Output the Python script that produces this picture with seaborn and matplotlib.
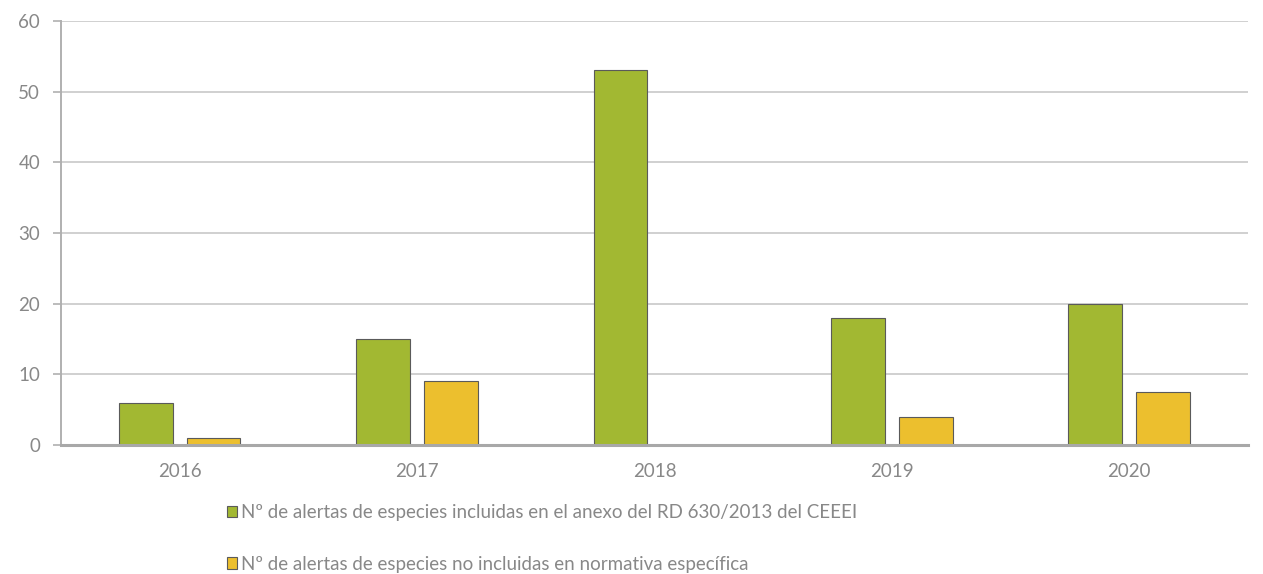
#!/usr/bin/env python3

from matplotlib import pyplot as plt
import pandas as pd
import seaborn as sns

years = ["2016", "2017", "2018", "2019", "2020"]
incluidas = [6, 15, 53, 18, 20]
no_incluidas = [1, 9, 0, 4, 7.5]
series = [
        "Nº de alertas de especies incluidas en el anexo del RD 630/2013 del CEEEI",
        "Nº de alertas de especies no incluidas en normativa específica",
        ]
colors = ["#a2b832", "#ecbf2e"]
yticks = [0, 10, 20, 30, 40, 50, 60]


def main():
    df = pd.DataFrame({
            "year": years * 2,
            "value": incluidas + no_incluidas,
            "serie": [series[0]] * len(years) + [series[1]] * len(years),
            })

    sns.set_theme(style="white")
    plt.rcParams["font.family"] = ["Lato", "DejaVu Sans"]

    fig = plt.figure(figsize=(12.63, 5.74), dpi=100)
    ax = fig.add_axes([0.0483, 0.2247, 0.9397, 0.7387])

    ax.set_axisbelow(True)
    ax.grid(axis="y", color="#d0d0d0", linewidth=1.4)

    sns.barplot(
            data=df, x="year", y="value", hue="serie", palette=colors,
            saturation=1, width=0.572, gap=0.21, edgecolor="#5a5a5a",
            linewidth=0.8, ax=ax, legend=True,
            )

    ax.set_xlim(-0.5, 4.5)
    ax.set_ylim(0, 60)
    ax.set_yticks(yticks)
    ax.set_xlabel("")
    ax.set_ylabel("")

    for side in ["top", "right"]:
        ax.spines[side].set_visible(False)
    ax.spines["left"].set_color("#b0b0b0")
    ax.spines["left"].set_linewidth(1.4)
    ax.spines["bottom"].set_color("#a8a8a8")
    ax.spines["bottom"].set_linewidth(2.2)

    ax.tick_params(axis="y", left=True, length=6, width=1.2, color="#b0b0b0",
                   labelsize=13.5, labelcolor="#888888", pad=9)
    ax.tick_params(axis="x", bottom=False, labelsize=13.5,
                   labelcolor="#888888", pad=7)

    handles, labels = ax.get_legend_handles_labels()
    ax.get_legend().remove()
    fig.legend(
            handles, labels, loc="center left",
            bbox_to_anchor=(0.166, 0.062), frameon=False,
            fontsize=13.5, labelcolor="#888888", labelspacing=1.85,
            handlelength=0.55, handleheight=0.55, handletextpad=0.2,
            )

    fig.savefig("out.png", dpi=100)


if __name__ == "__main__":
    main()
